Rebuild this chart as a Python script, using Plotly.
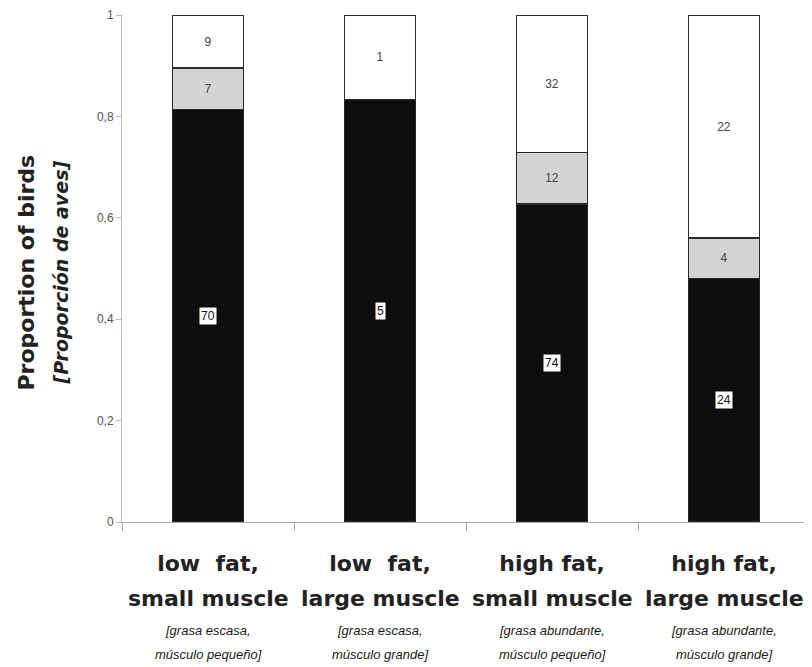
import plotly.graph_objects as go

# ---- data (counts of birds per condition class) ----
categories = ["lf_sm", "lf_lm", "hf_sm", "hf_lm"]
tick_en_1 = ["low\u00a0 fat,", "low\u00a0 fat,", "high fat,", "high fat,"]
tick_en_2 = ["small muscle", "large muscle", "small muscle", "large muscle"]
tick_es_1 = ["[grasa escasa,", "[grasa escasa,", "[grasa abundante,", "[grasa abundante,"]
tick_es_2 = ["músculo pequeño]", "músculo grande]", "músculo pequeño]", "músculo grande]"]
black_counts = [70, 5, 74, 24]
gray_counts = [7, 0, 12, 4]
white_counts = [9, 1, 32, 22]
y_ticks = [0, 0.2, 0.4, 0.6, 0.8, 1]
y_title_1 = "Proportion of birds"
y_title_2 = "[Proporción de aves]"

fig = go.Figure()

def lbl(vals):
    return [str(v) if v else "" for v in vals]

outline = dict(color="#2a2a2a", width=1.5)
num_font = dict(family="Liberation Sans, Arial", size=12, color="#444")
fig.add_trace(go.Bar(x=categories, y=black_counts, marker=dict(color="#0d0d0d", line=outline),
                     width=0.41, hoverinfo="skip"))
fig.add_trace(go.Bar(x=categories, y=gray_counts, marker=dict(color="#d4d4d4", line=outline),
                     width=0.41, text=lbl(gray_counts), textposition="inside",
                     insidetextanchor="middle", textfont=num_font, hoverinfo="skip"))
fig.add_trace(go.Bar(x=categories, y=white_counts, marker=dict(color="#ffffff", line=outline),
                     width=0.41, text=lbl(white_counts), textposition="inside",
                     insidetextanchor="middle", textfont=num_font, hoverinfo="skip"))

annotations = []
# boxed labels in the middle of the black segments
for c, b, g, w in zip(categories, black_counts, gray_counts, white_counts):
    tot = b + g + w
    annotations.append(dict(x=c, y=(b / 2) / tot, xref="x", yref="y", text=str(b),
                            showarrow=False, bgcolor="#ffffff", borderpad=1,
                            font=dict(family="Liberation Sans, Arial", size=12, color="#111")))
# second bold line and spanish sub-labels under each category
for c, e2, s1, s2 in zip(categories, tick_en_2, tick_es_1, tick_es_2):
    annotations.append(dict(x=c, y=0, xref="x", yref="paper", yanchor="middle",
                            yshift=-76, text="<b>" + e2 + "</b>", showarrow=False,
                            font=dict(family="DejaVu Sans", size=22, color="#222")))
    for s, sh in ((s1, -108), (s2, -132)):
        annotations.append(dict(x=c, y=0, xref="x", yref="paper", yanchor="middle",
                                yshift=sh, text="<i>" + s + "</i>", showarrow=False,
                                font=dict(family="Liberation Sans, Arial", size=13, color="#1a1a1a")))
# y axis title (two lines)
annotations.append(dict(x=0, y=0.5, xref="paper", yref="paper", xanchor="center", yanchor="middle",
                        xshift=-96, yshift=-4, textangle=-90, showarrow=False,
                        text="<b>" + y_title_1 + "</b>",
                        font=dict(family="DejaVu Sans", size=22, color="#222")))
annotations.append(dict(x=0, y=0.5, xref="paper", yref="paper", xanchor="center", yanchor="middle",
                        xshift=-62, yshift=-4, textangle=-90, showarrow=False,
                        text="<b><i>" + y_title_2 + "</i></b>",
                        font=dict(family="DejaVu Sans", size=19, color="#222")))

# the page body has an 8px margin, so the figure is 16px smaller and margins shifted
fig.update_layout(
    width=804, height=659,
    barmode="stack", barnorm="fraction",
    separators=", ",
    paper_bgcolor="#ffffff", plot_bgcolor="#ffffff",
    margin=dict(l=114, r=2, t=7, b=145),
    showlegend=False,
    annotations=annotations,
    xaxis=dict(
        tickmode="array", tickvals=categories, ticktext=["<b>" + t + "</b>" for t in tick_en_1],
        tickfont=dict(family="DejaVu Sans", size=22, color="#222"),
        tickson="boundaries", ticks="outside", ticklen=8, tickcolor="#aaaaaa",
        showline=True, linecolor="#aaaaaa", linewidth=1,
        ticklabelstandoff=22, showgrid=False, zeroline=False, automargin=False,
    ),
    yaxis=dict(
        range=[0, 1], tickvals=y_ticks,
        tickfont=dict(family="Liberation Sans, Arial", size=12, color="#555"),
        ticks="outside", ticklen=5, tickcolor="#bbbbbb",
        showline=True, linecolor="#bbbbbb", linewidth=1,
        showgrid=False, zeroline=False, automargin=False,
    ),
)

fig.write_html("out.html")
